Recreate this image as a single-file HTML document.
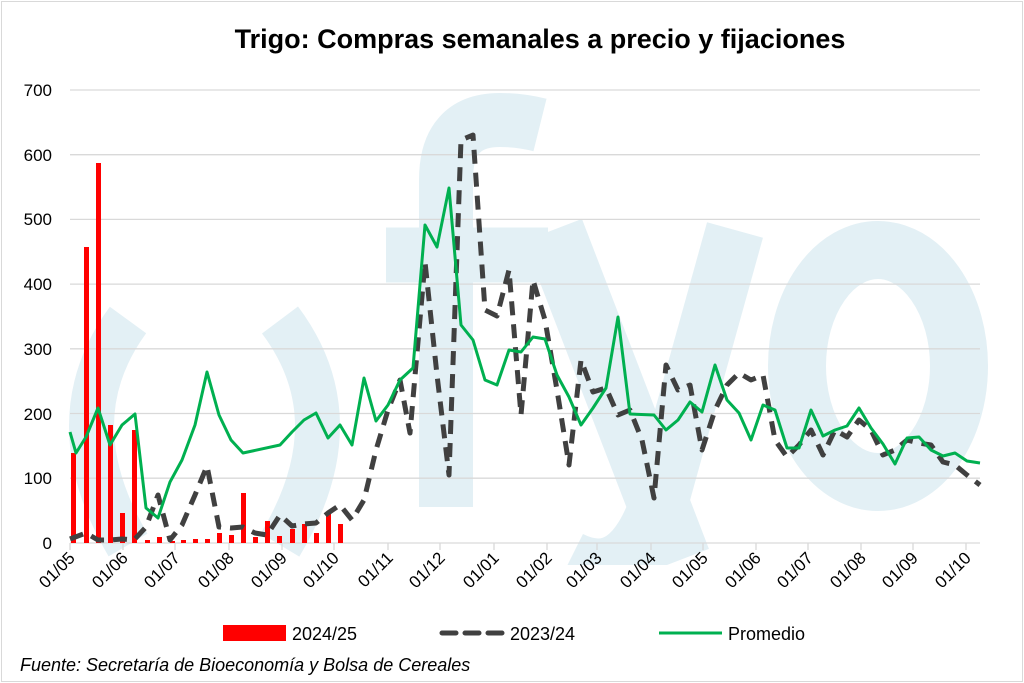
<!DOCTYPE html>
<html><head><meta charset="utf-8"><style>
html,body{margin:0;padding:0;background:#fff}
svg{display:block;font-family:"Liberation Sans",sans-serif}
</style></head><body>
<svg width="1024" height="683" viewBox="0 0 1024 683" xmlns="http://www.w3.org/2000/svg">
<rect x="1.5" y="1.5" width="1021" height="680" fill="#fff" stroke="#d9d9d9"/>
<defs><clipPath id="c"><rect x="0" y="80" width="990" height="485"/></clipPath></defs>
<g clip-path="url(#c)" fill="none" stroke="#e3f0f5">
 <path d="M128,320 Q55,420 128,545" stroke-width="45"/>
 <path d="M280,320 Q355,420 280,545" stroke-width="45"/>
 <path d="M446,507 L446,180 Q446,120 500,120 Q520,120 540,125" stroke-width="54"/>
 <path d="M386,255 L548,255" stroke-width="55"/>
 <path d="M553,230 L680,560" stroke-width="62"/>
 <path d="M735,230 L660,500 Q630,590 570,560" stroke-width="58"/>
 <ellipse cx="878" cy="366" rx="81" ry="116" stroke-width="58"/>
</g>
<g stroke="#d9d9d9" stroke-width="1.3">
 <line x1="70" y1="90" x2="980" y2="90"/>
 <line x1="70" y1="154.7" x2="980" y2="154.7"/>
 <line x1="70" y1="219.4" x2="980" y2="219.4"/>
 <line x1="70" y1="284.1" x2="980" y2="284.1"/>
 <line x1="70" y1="348.8" x2="980" y2="348.8"/>
 <line x1="70" y1="413.5" x2="980" y2="413.5"/>
 <line x1="70" y1="478.2" x2="980" y2="478.2"/>
 <line x1="70" y1="543" x2="980" y2="543"/>
</g>
<g stroke="#d9d9d9" stroke-width="1.3">
 <line x1="70" y1="543" x2="70" y2="550"/><line x1="123" y1="543" x2="123" y2="550"/><line x1="175" y1="543" x2="175" y2="550"/><line x1="229" y1="543" x2="229" y2="550"/><line x1="282" y1="543" x2="282" y2="550"/><line x1="334" y1="543" x2="334" y2="550"/><line x1="388" y1="543" x2="388" y2="550"/><line x1="440" y1="543" x2="440" y2="550"/><line x1="494" y1="543" x2="494" y2="550"/><line x1="547" y1="543" x2="547" y2="550"/><line x1="597" y1="543" x2="597" y2="550"/><line x1="651" y1="543" x2="651" y2="550"/><line x1="703" y1="543" x2="703" y2="550"/><line x1="756" y1="543" x2="756" y2="550"/><line x1="808" y1="543" x2="808" y2="550"/><line x1="861" y1="543" x2="861" y2="550"/><line x1="913" y1="543" x2="913" y2="550"/><line x1="966" y1="543" x2="966" y2="550"/>
</g>
<g fill="#ff0000">
<rect x="71" y="453" width="5" height="90"/><rect x="84" y="247" width="5" height="296"/><rect x="96" y="163" width="5" height="380"/><rect x="108" y="425" width="5" height="118"/><rect x="120" y="513" width="5" height="30"/><rect x="132" y="430" width="5" height="113"/><rect x="145" y="540" width="5" height="3"/><rect x="157" y="537" width="5" height="6"/><rect x="170" y="541" width="5" height="2"/><rect x="181" y="540" width="5" height="3"/><rect x="193" y="539" width="5" height="4"/><rect x="205" y="539" width="5" height="4"/><rect x="217" y="533" width="5" height="10"/><rect x="229" y="535" width="5" height="8"/><rect x="241" y="493" width="5" height="50"/><rect x="253" y="537" width="5" height="6"/><rect x="265" y="521" width="5" height="22"/><rect x="277" y="536" width="5" height="7"/><rect x="290" y="529" width="5" height="14"/><rect x="302" y="524" width="5" height="19"/><rect x="314" y="533" width="5" height="10"/><rect x="326" y="514" width="5" height="29"/><rect x="338" y="524" width="5" height="19"/>
</g>
<polyline fill="none" stroke="#404040" stroke-width="5" stroke-dasharray="14,9" stroke-linejoin="round" points="70,539 86,533 98,540 110,540 122,539 134,540 146,527 158,495 170,540 182,525 195,495 207,466 219,527 231,528 243,527 255,533 267,535 280,515 292,526 304,524 316,523 328,513 340,505 352,520 364,500 376,450 388,410 400,380 410,433 425,262 437,375 449,475 461,140 473,135 485,310 497,316 509,270 521,415 533,280 545,320 557,390 569,465 581,360 593,392 606,388 618,415 630,410 642,440 654,498 666,365 678,390 690,385 702,450 715,410 727,385 739,373 751,380 763,375 775,440 787,457 799,445 811,430 823,455 835,430 847,437 859,420 871,430 883,455 895,450 907,440 919,443 931,445 943,462 955,465 967,475 980,485"/>
<polyline fill="none" stroke="#00b050" stroke-width="3" stroke-linejoin="round" points="70,432 76,453 86,437 98,408 110,445 122,425 135,414 146,508 158,518 170,482 182,460 195,425 207,372 219,415 231,440 243,453 280,445 292,432 304,420 316,413 328,438 340,425 352,445 364,378 376,421 388,405 400,380 413,368 425,225 437,247 449,188 461,325 473,340 485,380 497,385 509,350 521,352 533,337 545,339 557,375 569,397 581,425 593,408 606,388 618,317 630,414 654,415 666,430 678,420 690,402 702,412 715,365 727,400 739,413 751,440 763,405 775,410 787,448 799,448 811,410 823,436 835,430 847,426 859,408 871,428 883,444 895,464 907,438 919,437 931,450 943,456 955,453 967,461 980,463"/>
<g font-size="17" fill="#000" text-anchor="end">
 <text x="52" y="96">700</text><text x="52" y="161">600</text><text x="52" y="225">500</text><text x="52" y="290">400</text><text x="52" y="355">300</text><text x="52" y="420">200</text><text x="52" y="484">100</text><text x="52" y="549">0</text>
</g>
<g font-size="17" fill="#000" text-anchor="end">
 <text transform="translate(76,559) rotate(-45)">01/05</text>
 <text transform="translate(129,559) rotate(-45)">01/06</text>
 <text transform="translate(181,559) rotate(-45)">01/07</text>
 <text transform="translate(235,559) rotate(-45)">01/08</text>
 <text transform="translate(288,559) rotate(-45)">01/09</text>
 <text transform="translate(340,559) rotate(-45)">01/10</text>
 <text transform="translate(394,559) rotate(-45)">01/11</text>
 <text transform="translate(446,559) rotate(-45)">01/12</text>
 <text transform="translate(500,559) rotate(-45)">01/01</text>
 <text transform="translate(553,559) rotate(-45)">01/02</text>
 <text transform="translate(603,559) rotate(-45)">01/03</text>
 <text transform="translate(657,559) rotate(-45)">01/04</text>
 <text transform="translate(709,559) rotate(-45)">01/05</text>
 <text transform="translate(762,559) rotate(-45)">01/06</text>
 <text transform="translate(814,559) rotate(-45)">01/07</text>
 <text transform="translate(867,559) rotate(-45)">01/08</text>
 <text transform="translate(919,559) rotate(-45)">01/09</text>
 <text transform="translate(972,559) rotate(-45)">01/10</text>
</g>
<text x="540" y="48" font-size="27" font-weight="bold" text-anchor="middle" fill="#000">Trigo: Compras semanales a precio y fijaciones</text>
<rect x="223" y="625" width="63" height="16" fill="#ff0000"/>
<text x="292" y="640" font-size="18" fill="#000">2024/25</text>
<line x1="442" y1="633" x2="502" y2="633" stroke="#404040" stroke-width="5" stroke-dasharray="14,9" stroke-linecap="round"/>
<text x="510" y="640" font-size="18" fill="#000">2023/24</text>
<line x1="659" y1="633" x2="722" y2="633" stroke="#00b050" stroke-width="3"/>
<text x="728" y="640" font-size="18" fill="#000">Promedio</text>
<text x="20" y="671" font-size="18" font-style="italic" fill="#000">Fuente: Secretaría de Bioeconomía y Bolsa de Cereales</text>
</svg>
</body></html>
